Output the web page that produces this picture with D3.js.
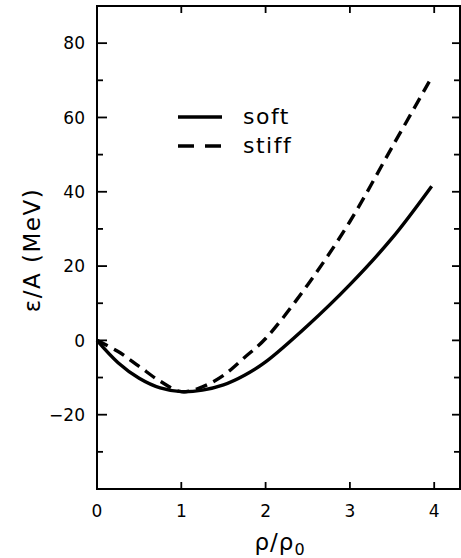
<!DOCTYPE html>
<html>
<head>
<meta charset="utf-8">
<script src="https://cdn.jsdelivr.net/npm/d3@7"></script>
<style>
  body { margin: 0; background: #fff; }
  text { font-family: "DejaVu Sans", sans-serif; fill: #000; }
</style>
</head>
<body>
<div id="chart"></div>
<script>
const width = 461;
const height = 558;

// density ratio and energy per nucleon (MeV)
const softX = [0, 0.25, 0.5, 0.75, 1.0, 1.25, 1.5, 1.75, 2.0, 2.5, 3.0, 3.5, 3.97];
const softY = [0, -6.0, -10.2, -12.8, -13.8, -13.4, -12.0, -9.4, -5.8, 4.0, 15, 27.5, 41.5];
const stiffX = [0, 0.25, 0.5, 0.75, 1.0, 1.25, 1.5, 1.75, 2.0, 2.5, 3.0, 3.5, 3.95];
const stiffY = [0, -3.0, -7.0, -11.0, -13.8, -12.5, -9.4, -4.6, 0.5, 15, 32, 52, 70];
const xTicks = [0, 1, 2, 3, 4];
const yTicks = [-20, 0, 20, 40, 60, 80];
const yMinor = [-30, -10, 10, 30, 50, 70];
const legendNames = ['soft', 'stiff'];

const margin = {left: 97, right: 1, top: 6, bottom: 69};
const x = d3.scaleLinear().domain([0, 4.306]).range([margin.left, width - margin.right]);
const y = d3.scaleLinear().domain([-40, 90]).range([height - margin.bottom, margin.top]);

const svg = d3.select('#chart').append('svg').attr('width', width).attr('height', height);

// frame
svg.append('rect')
  .attr('x', x(0)).attr('y', y(90))
  .attr('width', x(4.306) - x(0)).attr('height', y(-40) - y(90))
  .attr('fill', 'none').attr('stroke', '#000').attr('stroke-width', 2);

const ticks = svg.append('g').attr('stroke', '#000').attr('stroke-width', 1.8);
yTicks.forEach((v) => {
  ticks.append('line').attr('x1', x(0)).attr('x2', x(0) + 10).attr('y1', y(v)).attr('y2', y(v));
  ticks.append('line').attr('x1', x(4.306)).attr('x2', x(4.306) - 8).attr('y1', y(v)).attr('y2', y(v));
});
yMinor.forEach((v) => {
  ticks.append('line').attr('x1', x(0)).attr('x2', x(0) + 6).attr('y1', y(v)).attr('y2', y(v));
  ticks.append('line').attr('x1', x(4.306)).attr('x2', x(4.306) - 6).attr('y1', y(v)).attr('y2', y(v));
});
xTicks.slice(1).forEach((v) => {
  ticks.append('line').attr('x1', x(v)).attr('x2', x(v)).attr('y1', y(-40)).attr('y2', y(-40) - 7);
  ticks.append('line').attr('x1', x(v)).attr('x2', x(v)).attr('y1', y(90)).attr('y2', y(90) + 7);
});

// tick labels
svg.append('g').selectAll('text')
  .data(yTicks)
  .enter()
  .append('text')
  .attr('x', x(0) - 12)
  .attr('y', (d) => y(d))
  .attr('dy', '0.36em')
  .attr('text-anchor', 'end')
  .style('font-size', '17px')
  .text((d) => (d < 0 ? '\u2212' + Math.abs(d) : d));

svg.append('g').selectAll('text')
  .data(xTicks)
  .enter()
  .append('text')
  .attr('x', (d) => x(d))
  .attr('y', y(-40) + 28)
  .attr('text-anchor', 'middle')
  .style('font-size', '17px')
  .text((d) => d);

// axis titles
const xl = svg.append('text')
  .attr('x', 280).attr('y', 550)
  .attr('text-anchor', 'middle')
  .style('font-size', '23px')
  .style('letter-spacing', '1px');
xl.append('tspan').text('\u03c1/\u03c1');
xl.append('tspan').attr('dy', 5).style('font-size', '16px').text('0');

svg.append('text')
  .attr('transform', 'translate(40,250) rotate(-90)')
  .attr('text-anchor', 'middle')
  .style('font-size', '23px')
  .style('letter-spacing', '1.5px')
  .text('\u03b5/A  (MeV)');

// curves
const line = d3.line()
  .x((d) => x(d[0]))
  .y((d) => y(d[1]))
  .curve(d3.curveCatmullRom);

svg.append('path')
  .datum(softX.map((v, i) => [v, softY[i]]))
  .attr('d', line)
  .attr('fill', 'none').attr('stroke', '#000').attr('stroke-width', 3.4);

svg.append('path')
  .datum(stiffX.map((v, i) => [v, stiffY[i]]))
  .attr('d', line)
  .attr('fill', 'none').attr('stroke', '#000').attr('stroke-width', 3.4)
  .attr('stroke-dasharray', '12,7');

// legend
const legend = svg.append('g');
legendNames.forEach((name, i) => {
  const ly = 117 + i * 29;
  legend.append('line')
    .attr('x1', 178).attr('x2', 222).attr('y1', ly).attr('y2', ly)
    .attr('stroke', '#000').attr('stroke-width', 3.4)
    .attr('stroke-dasharray', i === 1 ? '16,11' : null);
  legend.append('text')
    .attr('x', 243).attr('y', ly + 7)
    .style('font-size', '22px')
    .style('letter-spacing', '1.5px')
    .text(name);
});
</script>
</body>
</html>
